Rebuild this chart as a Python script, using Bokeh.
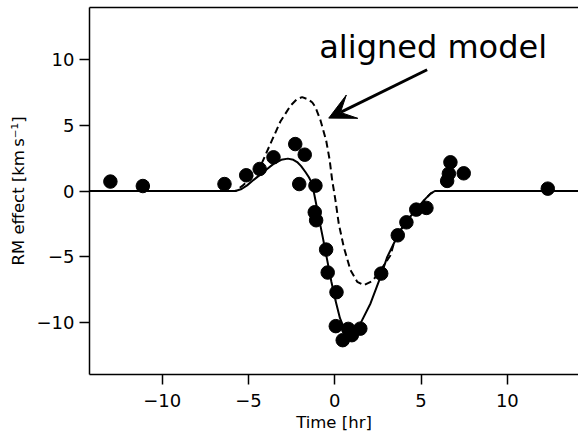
from bokeh.plotting import figure
from bokeh.models import Range1d, FixedTicker, Label, Arrow, VeeHead, LinearAxis
from bokeh.embed import file_html
from bokeh.resources import INLINE

# Observed RM effect data (time in hr, velocity in km/s)
obs_time = [-13.0, -11.12, -6.39, -5.13, -4.35, -3.55, -2.29, -1.74, -2.06, -1.12,
            -1.16, -1.08, -0.50, -0.41, 0.10, 0.06, 0.78, 0.99, 0.46, 1.48,
            2.69, 3.65, 4.15, 4.72, 5.31, 6.51, 6.61, 6.70, 7.47, 12.34]
obs_rv = [0.72, 0.38, 0.53, 1.20, 1.68, 2.57, 3.58, 2.77, 0.53, 0.41,
          -1.62, -2.23, -4.47, -6.22, -7.72, -10.31, -10.52, -11.0, -11.38, -10.5,
          -6.30, -3.38, -2.39, -1.42, -1.29, 0.77, 1.32, 2.19, 1.35, 0.18]

# Best-fit model (solid)
fit_time = [-15, -5.75, -5.4, -5.08, -4.7, -4.3, -3.9, -3.53, -3.1, -2.72, -2.4, -2.18,
            -1.95, -1.70, -1.5, -1.31, -1.12, -0.9, -0.7, -0.45, -0.2, 0.05, 0.3, 0.55,
            0.8, 1.1, 1.49, 2.07, 2.65, 3.04, 3.42, 3.81, 4.19, 4.77, 5.26, 5.55, 5.8, 15]
fit_rv = [0, 0, 0.15, 0.43, 0.85, 1.27, 1.7, 2.09, 2.38, 2.47, 2.38, 2.21,
          1.9, 1.45, 1.05, 0.56, -0.71, -2.2, -3.5, -5.2, -6.9, -8.4, -9.7, -10.5,
          -10.75, -10.65, -10.1, -8.58, -6.55, -5.03, -4.01, -3.0, -2.23, -1.34, -0.58, -0.2, 0, 0]

# Aligned model (dashed)
aligned_time = [-15, -5.75, -5.3, -4.8, -4.3, -3.73, -3.15, -2.57, -2.2, -1.89, -1.55, -1.3,
                -1.12, -0.83, -0.5, -0.3, -0.15, 0.04, 0.23, 0.52, 0.91, 1.30, 1.68, 2.2,
                2.7, 3.23, 3.42, 3.81, 4.19, 4.77, 5.26, 5.55, 5.8, 15]
aligned_rv = [0, 0, 0.45, 1.1, 1.9, 3.6, 5.3, 6.5, 7.0, 7.16, 7.0, 6.75,
              6.4, 5.4, 3.86, 2.4, 0.82, -0.71, -2.49, -4.27, -6.04, -6.93, -7.19, -6.85,
              -5.95, -4.9, -4.01, -3.0, -2.23, -1.34, -0.58, -0.2, 0, 0]

x_ticks = [-10, -5, 0, 5, 10]
x_tick_labels = ["\u221210", "\u22125", "0", "5", "10"]
y_ticks = [-10, -5, 0, 5, 10]
y_tick_labels = ["\u221210", "\u22125", "0", "5", "10"]

FONT = "DejaVu Sans"

p = figure(width=578, height=434, output_backend="svg", toolbar_location=None,
           x_range=Range1d(-14.21, 14.12), y_range=Range1d(-14.0, 14.0),
           min_border_left=89, min_border_right=0, min_border_top=7, min_border_bottom=60)
p.outline_line_color = None
p.grid.visible = False
p.background_fill_color = "white"
p.border_fill_color = "white"

for ax, ticks, labels in ((p.xaxis[0], x_ticks, x_tick_labels), (p.yaxis[0], y_ticks, y_tick_labels)):
    ax.ticker = FixedTicker(ticks=ticks)
    ax.major_label_overrides = {t: l for t, l in zip(ticks, labels)}
    ax.axis_line_width = 1.5
    ax.axis_line_color = "black"
    ax.major_tick_line_width = 1.5
    ax.major_tick_line_color = "black"
    ax.major_tick_out = 10
    ax.major_tick_in = 0
    ax.minor_tick_line_color = None
    ax.major_label_text_font = FONT
    ax.major_label_text_font_size = "18px"
    ax.major_label_text_color = "black"
    ax.axis_label_text_font = FONT
    ax.axis_label_text_font_size = "16.5px"
    ax.axis_label_text_font_style = "normal"
    ax.axis_label_text_color = "black"

p.xaxis.axis_label = "Time [hr]"
p.yaxis.axis_label = "RM effect [km\u2009s\u207b\u00b9]"
p.xaxis.major_label_standoff = 9
p.yaxis.major_label_standoff = 5
p.xaxis.axis_label_standoff = 3
p.yaxis.axis_label_standoff = 6
p.xaxis.major_label_text_line_height = 1.0
p.xaxis.axis_label_text_line_height = 1.0

# top spine (axis line only)
top = LinearAxis(ticker=FixedTicker(ticks=[]), axis_line_width=1.5, axis_line_color="black",
                 major_tick_out=0, major_tick_in=0, minor_tick_line_color=None,
                 major_label_standoff=0, major_label_text_font_size="0px")
p.add_layout(top, "above")

p.line(aligned_time, aligned_rv, line_color="black", line_width=2, line_dash="7 4")
p.line(fit_time, fit_rv, line_color="black", line_width=2)
p.scatter(obs_time, obs_rv, size=13.5, marker="circle", fill_color="black", line_color="black")

p.add_layout(Label(x=-0.9, y=10.95, text="aligned model", text_font=FONT,
                   text_font_size="32px", text_color="black", text_baseline="alphabetic"))
p.add_layout(Arrow(x_start=5.35, y_start=9.25, x_end=-0.35, y_end=5.56, line_width=3,
                   line_color="black",
                   end=VeeHead(size=26, fill_color="black", line_color="black")))

open("out.html", "w").write(file_html(p, INLINE))
